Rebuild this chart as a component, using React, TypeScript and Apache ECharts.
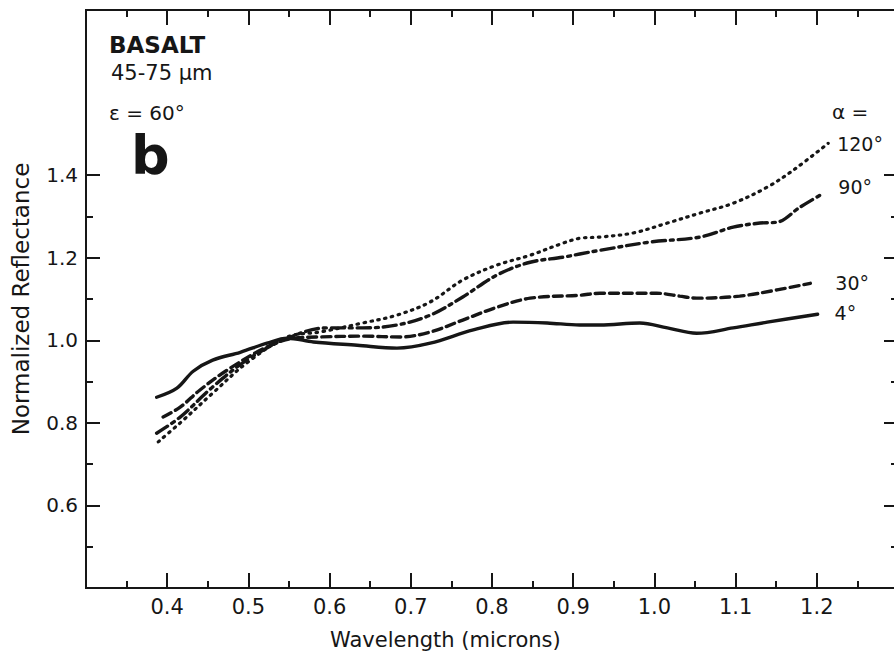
import React, { useEffect, useRef } from "react";
import * as echarts from "echarts";

// Tick values
const xMajorTicks = [0.4, 0.5, 0.6, 0.7, 0.8, 0.9, 1.0, 1.1, 1.2];
const xMinorTicks = [0.35, 0.45, 0.55, 0.65, 0.75, 0.85, 0.95, 1.05, 1.15, 1.25];
const yMajorTicks = [0.6, 0.8, 1.0, 1.2, 1.4];
const yMinorTicks = [0.5, 0.7, 0.9, 1.1, 1.3];

// Curves (wavelength in microns, normalized reflectance)
const a4X = [0.387, 0.412, 0.432, 0.456, 0.49, 0.523, 0.548, 0.58, 0.634, 0.683, 0.724, 0.777, 0.826, 0.868, 0.908, 0.933, 0.982, 1.016, 1.052, 1.097, 1.139, 1.201];
const a4Y = [0.862, 0.884, 0.925, 0.952, 0.971, 0.993, 1.005, 0.996, 0.988, 0.981, 0.993, 1.025, 1.044, 1.042, 1.037, 1.037, 1.042, 1.03, 1.017, 1.03, 1.044, 1.063];

const a30X = [0.395, 0.416, 0.44, 0.474, 0.523, 0.555, 0.588, 0.641, 0.687, 0.724, 0.764, 0.806, 0.847, 0.908, 0.933, 1.003, 1.031, 1.052, 1.105, 1.151, 1.192];
const a30Y = [0.814, 0.838, 0.879, 0.928, 0.984, 1.005, 1.008, 1.01, 1.008, 1.02, 1.049, 1.08, 1.102, 1.109, 1.114, 1.114, 1.107, 1.102, 1.107, 1.122, 1.138];

const a90X = [0.387, 0.416, 0.456, 0.498, 0.548, 0.597, 0.641, 0.683, 0.724, 0.764, 0.806, 0.847, 0.887, 0.908, 0.933, 0.995, 1.056, 1.097, 1.13, 1.151, 1.179, 1.208];
const a90Y = [0.775, 0.814, 0.887, 0.952, 1.005, 1.03, 1.03, 1.037, 1.061, 1.105, 1.158, 1.189, 1.201, 1.209, 1.218, 1.238, 1.25, 1.274, 1.284, 1.286, 1.322, 1.356];

const a120X = [0.389, 0.416, 0.456, 0.498, 0.548, 0.588, 0.641, 0.683, 0.724, 0.764, 0.806, 0.847, 0.887, 0.908, 0.933, 0.974, 1.016, 1.056, 1.097, 1.139, 1.171, 1.214];
const a120Y = [0.754, 0.8, 0.872, 0.945, 1.008, 1.02, 1.042, 1.061, 1.093, 1.146, 1.182, 1.206, 1.235, 1.247, 1.25, 1.26, 1.284, 1.308, 1.332, 1.371, 1.412, 1.477];

const seriesNames = ["120°", "90°", "30°", "4°"];

const INK = "#161616";
const FONT = "'DejaVu Sans', 'Liberation Sans', sans-serif";

const pairs = (xs: number[], ys: number[]) => xs.map((x, i) => [x, ys[i]]);

function xAxisDef(pos: "bottom" | "top", ticks: number[], len: number, labels: boolean) {
  return {
    type: "value",
    position: pos,
    min: 0.3,
    max: 1.3,
    axisLine: { show: true, onZero: false, lineStyle: { color: INK, width: 2 } },
    axisTick: { show: true, inside: true, length: len, customValues: ticks, lineStyle: { color: INK, width: 2 } },
    axisLabel: labels
      ? { show: true, customValues: xMajorTicks, formatter: (v: number) => v.toFixed(1), color: INK, fontSize: 21, fontFamily: FONT, margin: 8 }
      : { show: false },
    splitLine: { show: false },
  };
}

function yAxisDef(pos: "left" | "right", ticks: number[], len: number, labels: boolean, name?: string) {
  return {
    type: "value",
    position: pos,
    min: 0.4,
    max: 1.8,
    axisLine: { show: true, onZero: false, lineStyle: { color: INK, width: 2 } },
    axisTick: { show: true, inside: true, length: len, customValues: ticks, lineStyle: { color: INK, width: 2 } },
    axisLabel: labels
      ? { show: true, customValues: yMajorTicks, formatter: (v: number) => v.toFixed(1), color: INK, fontSize: 20, fontFamily: FONT, margin: 8 }
      : { show: false },
    splitLine: { show: false },
    name: name || "",
    nameLocation: "middle",
    nameGap: 54,
    nameTextStyle: { color: INK, fontSize: 23, fontFamily: FONT },
  };
}

function lineSeries(name: string, xs: number[], ys: number[], type: any, width: number, distance: number, offset: number[]) {
  return {
    type: "line",
    name,
    xAxisIndex: 0,
    yAxisIndex: 0,
    data: pairs(xs, ys),
    smooth: 0.35,
    showSymbol: false,
    symbol: "none",
    lineStyle: { color: INK, width, type, cap: "round" },
    endLabel: {
      show: true,
      formatter: name,
      color: INK,
      fontSize: 19,
      fontFamily: FONT,
      distance,
      offset,
    },
  };
}

export default function App() {
  const ref = useRef<HTMLDivElement>(null);
  useEffect(() => {
    if (!ref.current) return;
    const chart = echarts.init(ref.current, null, { renderer: "svg" });
    chart.setOption({
      animation: false,
      backgroundColor: "#ffffff",
      grid: { left: 86, top: 10, right: 6, bottom: 70, containLabel: false },
      xAxis: [
        xAxisDef("bottom", xMajorTicks, 15, true),
        xAxisDef("bottom", xMinorTicks, 7, false),
        xAxisDef("top", xMajorTicks, 15, false),
        xAxisDef("top", xMinorTicks, 7, false),
      ],
      yAxis: [
        yAxisDef("left", yMajorTicks, 14, true, "Normalized Reflectance"),
        yAxisDef("left", yMinorTicks, 7, false),
        yAxisDef("right", yMajorTicks, 14, false),
        yAxisDef("right", yMinorTicks, 7, false),
      ],
      series: [
        lineSeries(seriesNames[0], a120X, a120Y, [1.5, 5.5], 3.2, 9, [0, 1]),
        lineSeries(seriesNames[1], a90X, a90Y, [13, 5, 3, 5], 3.4, 15, [0, -6]),
        lineSeries(seriesNames[2], a30X, a30Y, [9, 5], 3.4, 25, [0, 0]),
        lineSeries(seriesNames[3], a4X, a4Y, "solid", 3.4, 17, [0, -1]),
      ],
      graphic: [
        { type: "text", left: 109, top: 33, style: { text: "BASALT", font: `bold 23px ${FONT}`, fill: INK } },
        { type: "text", left: 111, top: 62, style: { text: "45-75 µm", font: `21px ${FONT}`, fill: INK } },
        { type: "text", left: 109, top: 103, style: { text: "ε = 60°", font: `20px ${FONT}`, fill: INK } },
        { type: "text", left: 131, top: 128, style: { text: "b", font: `bold 54px ${FONT}`, fill: INK, lineHeight: 44 } },
        { type: "text", left: 832, top: 102, style: { text: "α =", font: `20px ${FONT}`, fill: INK } },
        { type: "text", left: 330, top: 629, style: { text: "Wavelength (microns)", font: `21px ${FONT}`, fill: INK } },
      ],
    });
    return () => chart.dispose();
  }, []);
  return (
    <div style={{ position: "fixed", left: 0, top: 0, width: 894, height: 658, overflow: "hidden", background: "#fff" }}>
      <div ref={ref} style={{ width: 904, height: 658 }} />
    </div>
  );
}
